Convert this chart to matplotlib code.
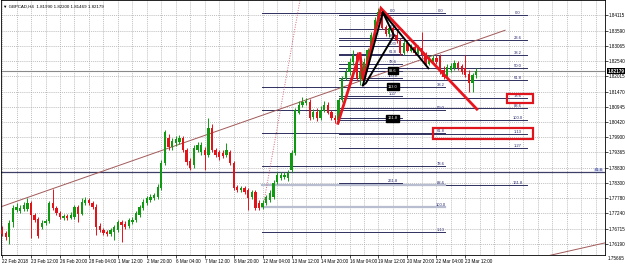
import numpy as np
import matplotlib.pyplot as plt
from matplotlib.patches import Rectangle

plt.rcParams['font.family'] = ['Liberation Sans', 'DejaVu Sans']

# GBPCAD H4 candles
opens = [1.7667, 1.7656, 1.7642, 1.7694, 1.7736, 1.7732, 1.7739, 1.7739, 1.7760, 1.7719,
         1.7705, 1.7677, 1.7691, 1.7698, 1.7760, 1.7743, 1.7725, 1.7708, 1.7715, 1.7708,
         1.7712, 1.7746, 1.7722, 1.7760, 1.7770, 1.7760, 1.7746, 1.7680, 1.7667, 1.7660,
         1.7653, 1.7660, 1.7667, 1.7694, 1.7687, 1.7680, 1.7694, 1.7701, 1.7719, 1.7743,
         1.7760, 1.7770, 1.7777, 1.7781, 1.7812, 1.7899, 1.7985, 1.7954, 1.7968, 1.7971,
         1.7985, 1.7944, 1.7906, 1.7892, 1.7944, 1.7937, 1.7944, 1.7926, 1.8020, 1.7944,
         1.7937, 1.7933, 1.7926, 1.7937, 1.7899, 1.7816, 1.7805, 1.7812, 1.7805, 1.7781,
         1.7798, 1.7760, 1.7746, 1.7760, 1.7770, 1.7781, 1.7833, 1.7847, 1.7850, 1.7847,
         1.7874, 1.7933, 1.8075, 1.8100, 1.8107, 1.8110, 1.8058, 1.8075, 1.8055, 1.8082,
         1.8100, 1.8075, 1.8055, 1.8048, 1.8117, 1.8193, 1.8214, 1.8249, 1.8273, 1.8193,
         1.8214, 1.8249, 1.8290, 1.8342, 1.8394, 1.8422, 1.8370, 1.8349, 1.8366, 1.8342,
         1.8325, 1.8280, 1.8315, 1.8290, 1.8301, 1.8283, 1.8297, 1.8273, 1.8245, 1.8249,
         1.8263, 1.8269, 1.8221, 1.8197, 1.8221, 1.8228, 1.8245, 1.8235, 1.8228, 1.8207,
         1.8179, 1.8204]
highs = [1.7680, 1.7663, 1.7701, 1.7753, 1.7760, 1.7753, 1.7764, 1.7777, 1.7767, 1.7725,
         1.7712, 1.7701, 1.7705, 1.7767, 1.7809, 1.7750, 1.7732, 1.7722, 1.7722, 1.7729,
         1.7753, 1.7753, 1.7777, 1.7781, 1.7777, 1.7767, 1.7757, 1.7691, 1.7673, 1.7667,
         1.7673, 1.7684, 1.7701, 1.7701, 1.7698, 1.7708, 1.7712, 1.7732, 1.7753, 1.7774,
         1.7784, 1.7791, 1.7795, 1.7826, 1.7909, 1.8013, 1.7999, 1.7985, 1.7992, 1.7996,
         1.7992, 1.7951, 1.7916, 1.7961, 1.7971, 1.7971, 1.7954, 1.8055, 1.8034, 1.7951,
         1.7944, 1.7944, 1.7968, 1.7944, 1.7906, 1.7822, 1.7819, 1.7819, 1.7812, 1.7805,
         1.7805, 1.7770, 1.7770, 1.7788, 1.7805, 1.7840, 1.7868, 1.7868, 1.7868, 1.7874,
         1.7944, 1.8089, 1.8114, 1.8127, 1.8124, 1.8120, 1.8086, 1.8089, 1.8096, 1.8114,
         1.8110, 1.8082, 1.8065, 1.8124, 1.8200, 1.8228, 1.8263, 1.8290, 1.8283, 1.8228,
         1.8263, 1.8297, 1.8353, 1.8405, 1.8436, 1.8432, 1.8377, 1.8373, 1.8377, 1.8356,
         1.8332, 1.8325, 1.8325, 1.8311, 1.8308, 1.8308, 1.8353, 1.8283, 1.8273, 1.8273,
         1.8273, 1.8276, 1.8235, 1.8242, 1.8245, 1.8256, 1.8252, 1.8242, 1.8273, 1.8221,
         1.8211, 1.8228]
lows = [1.7646, 1.7632, 1.7618, 1.7677, 1.7729, 1.7725, 1.7732, 1.7732, 1.7639, 1.7694,
        1.7639, 1.7670, 1.7684, 1.7691, 1.7736, 1.7719, 1.7705, 1.7701, 1.7701, 1.7705,
        1.7705, 1.7694, 1.7719, 1.7753, 1.7753, 1.7739, 1.7649, 1.7660, 1.7649, 1.7646,
        1.7646, 1.7632, 1.7660, 1.7625, 1.7670, 1.7673, 1.7687, 1.7694, 1.7712, 1.7736,
        1.7753, 1.7764, 1.7770, 1.7774, 1.7805, 1.7892, 1.7944, 1.7944, 1.7958, 1.7965,
        1.7937, 1.7892, 1.7874, 1.7881, 1.7937, 1.7926, 1.7874, 1.7919, 1.7937, 1.7919,
        1.7909, 1.7916, 1.7919, 1.7892, 1.7805, 1.7798, 1.7798, 1.7791, 1.7736, 1.7774,
        1.7736, 1.7736, 1.7739, 1.7753, 1.7764, 1.7774, 1.7826, 1.7840, 1.7843, 1.7836,
        1.7868, 1.7926, 1.8069, 1.8093, 1.8100, 1.8048, 1.8051, 1.8044, 1.8048, 1.8075,
        1.8069, 1.8048, 1.8037, 1.8041, 1.8110, 1.8186, 1.8204, 1.8238, 1.8186, 1.8169,
        1.8204, 1.8238, 1.8283, 1.8332, 1.8387, 1.8363, 1.8339, 1.8335, 1.8332, 1.8315,
        1.8273, 1.8273, 1.8283, 1.8283, 1.8273, 1.8276, 1.8263, 1.8235, 1.8238, 1.8242,
        1.8242, 1.8207, 1.8190, 1.8190, 1.8214, 1.8221, 1.8221, 1.8207, 1.8197, 1.8145,
        1.8145, 1.8193]
closes = [1.7653, 1.7642, 1.7691, 1.7743, 1.7746, 1.7743, 1.7753, 1.7760, 1.7719, 1.7701,
          1.7646, 1.7691, 1.7698, 1.7760, 1.7743, 1.7725, 1.7712, 1.7715, 1.7708, 1.7719,
          1.7746, 1.7722, 1.7764, 1.7770, 1.7760, 1.7746, 1.7677, 1.7667, 1.7656, 1.7653,
          1.7667, 1.7677, 1.7694, 1.7684, 1.7677, 1.7701, 1.7701, 1.7725, 1.7746, 1.7764,
          1.7777, 1.7781, 1.7788, 1.7816, 1.7899, 1.8006, 1.7954, 1.7975, 1.7982, 1.7985,
          1.7944, 1.7902, 1.7881, 1.7951, 1.7961, 1.7961, 1.7926, 1.8020, 1.7944, 1.7926,
          1.7919, 1.7923, 1.7944, 1.7899, 1.7812, 1.7805, 1.7812, 1.7798, 1.7777, 1.7798,
          1.7743, 1.7743, 1.7760, 1.7781, 1.7795, 1.7829, 1.7857, 1.7857, 1.7857, 1.7864,
          1.7933, 1.8082, 1.8100, 1.8110, 1.8114, 1.8055, 1.8075, 1.8055, 1.8082, 1.8100,
          1.8075, 1.8055, 1.8048, 1.8117, 1.8193, 1.8214, 1.8249, 1.8273, 1.8193, 1.8214,
          1.8249, 1.8290, 1.8342, 1.8394, 1.8422, 1.8370, 1.8349, 1.8366, 1.8342, 1.8325,
          1.8280, 1.8315, 1.8290, 1.8301, 1.8283, 1.8297, 1.8273, 1.8245, 1.8263, 1.8263,
          1.8249, 1.8214, 1.8197, 1.8231, 1.8235, 1.8245, 1.8228, 1.8214, 1.8204, 1.8179,
          1.8204, 1.8218]

date_labels = ["22 Feb 2018", "23 Feb 12:00", "26 Feb 20:00", "28 Feb 04:00", "1 Mar 12:00",
               "2 Mar 20:00", "6 Mar 04:00", "7 Mar 12:00", "8 Mar 20:00", "12 Mar 04:00",
               "13 Mar 12:00", "14 Mar 20:00", "16 Mar 04:00", "19 Mar 12:00", "20 Mar 20:00",
               "22 Mar 04:00", "23 Mar 12:00"]
price_ticks = [1.84115, 1.83590, 1.83065, 1.82540, 1.82015, 1.81470, 1.80945, 1.80420,
               1.79900, 1.79365, 1.78830, 1.78300, 1.77780, 1.77240, 1.76715, 1.76190]
last_price = 1.82179
title = "GBPCAD,H4  1.81990 1.82200 1.81469 1.82179"

# fibonacci tools: levels, labels, 0% price, 100% price
fibA_levels = [0, 23.6, 38.2, 50.0, 61.8, 78.6, 88.6, 100.0, 113, 127, 161.8]
fibA_labels = ["0.0", "23.6", "38.2", "50.0", "61.8", "78.6", "88.6", "100.0", "1.13", "1.27", "161.8"]
fibA_prices = (1.84115, 1.80480)
fibB_levels = [0, 38.2, 50.0, 61.8, 78.6, 88.6, 100.0, 113]
fibB_labels = ["0.0", "38.2", "50.0", "61.8", "78.6", "88.6", "100.0", "1.13"]
fibB_prices = (1.84185, 1.77460)
fibC_levels = [0, 23.6, 38.2, 50.0, 61.8, 78.6, 88.6, 100.0, 113, 127, 161.8, 261.8]
fibC_labels = ["0.0", "23.6", "38.2", "50.0", "61.8", "78.6", "88.6", "100.0", "113.0", "1.27", "161.8", "261.8"]
fibC_prices = (1.84185, 1.81930)
fibC_boxed = ["88.6", "113.0", "161.8"]

# pattern drawn on the chart (bar, price)
red_xabcd_bars = [92.8, 98.9, 99.7, 104.7, 131.2]
red_xabcd_prices = [1.8037, 1.8283, 1.8186, 1.8436, 1.8086]
black_bars = [99.7, 105.2, 108.3, 100.5, 99.7]
black_prices = [1.8169, 1.8422, 1.8342, 1.8176, 1.8169]
black2_bars = [105.2, 117.8]
black2_prices = [1.8422, 1.8228]
trend_bars = [-0.6, 139.0]
trend_prices = [1.7746, 1.8360]
trend2_bars = [149.4, 166.6]
trend2_prices = [1.7573, 1.7622]
dotted_bars = [72.1, 82.3]
dotted_prices = [1.7746, 1.8463]
hline_prices = [1.82179, 1.78680]

BULL = '#0f9a12'
BEAR = '#e3131b'
FIB = '#2e2f5e'
FIB_LIGHT = '#b9bdd0'
LBL = '#26266e'
FS = 3.3

fig = plt.figure(figsize=(6.25, 2.68), dpi=100)
ax = fig.add_axes([0.0016, 0.0485, 0.9664, 0.9500])
ax.set_xlim(-0.3, 166.6)
ax.set_ylim(1.75799, 1.84635)

idx = np.arange(len(closes))
o = np.array(opens)
c = np.array(closes)
up = c >= o
cols = np.where(up, BULL, BEAR)
ax.vlines(idx, lows, highs, colors=cols, lw=0.7, zorder=3)
ax.bar(idx, np.abs(c - o) + 0.00012, bottom=np.minimum(o, c) - 0.00006, width=0.65,
       color=cols, linewidth=0, zorder=3)

# grid
for b in range(0, 168, 4):
    ax.axvline(b, color='#a8a8a8', lw=0.5, ls=(0, (1.5, 1.5)), zorder=0)
for p in price_ticks:
    ax.axhline(p, color='#a8a8a8', lw=0.5, ls=(0, (1.5, 1.5)), zorder=0)

# trend lines
ax.plot(trend_bars, trend_prices, color='#a25a5a', lw=0.7, zorder=2)
ax.plot(trend2_bars, trend2_prices, color='#a25a5a', lw=0.7, zorder=2)
ax.plot(dotted_bars, dotted_prices, color='#d0687a', lw=0.7, ls=(0, (1, 1.5)), zorder=2)
ax.axhline(hline_prices[0], color='#8a8a8a', lw=0.8, zorder=1)
ax.axhline(hline_prices[1], color='#3d3f66', lw=0.9, zorder=1)
ax.text(165.9, hline_prices[1], "61.8", fontsize=3.0, color=LBL, ha='right', va='bottom',
        bbox=dict(boxstyle='square,pad=0.1', fc='#cfd6ee', ec='none'))


def draw_fib(levels, labels, prices, x0, x1, xl, light=(), boxed=()):
    top, bot = prices
    for lv, lb in zip(levels, labels):
        p = top - (top - bot) * lv / 100.0
        if lb in light:
            ax.plot([x0, x1], [p, p], color=FIB_LIGHT, lw=1.6, zorder=1)
        else:
            ax.plot([x0, x1], [p, p], color=FIB, lw=0.7, zorder=1)
        if lb in boxed:
            ax.text(xl, p, lb, fontsize=2.8, color='white', ha='center', va='center', zorder=6,
                    bbox=dict(boxstyle='square,pad=0.4', fc='black', ec='black'))
        else:
            ax.text(xl, p, lb, fontsize=3.0, color=LBL, ha='center', va='bottom', zorder=5)


draw_fib(fibA_levels, fibA_labels, fibA_prices, 93.0, 145.0, 142.6)
draw_fib(fibB_levels, fibB_labels, fibB_prices, 71.8, 122.5, 121.3, light=("88.6", "100.0"))
draw_fib(fibC_levels, fibC_labels, fibC_prices, 93.0, 110.5, 108.0, boxed=fibC_boxed)

# pattern lines
ax.plot(red_xabcd_bars, red_xabcd_prices, color='#e8151f', lw=2.0, zorder=7, solid_joinstyle='miter')
ax.plot(black_bars, black_prices, color='black', lw=1.4, zorder=7)
ax.plot(black2_bars, black2_prices, color='black', lw=1.4, zorder=7)

# highlight boxes
ax.add_patch(Rectangle((139.6, 1.81060), 7.2, 0.00320, fill=False, ec='#e0141c', lw=1.6, zorder=8))
ax.add_patch(Rectangle((119.1, 1.79820), 27.7, 0.00380, fill=False, ec='#e0141c', lw=1.6, zorder=8))

# axes styling
ax.yaxis.tick_right()
ax.set_yticks(price_ticks)
ax.set_yticklabels([f"{p:.5f}" for p in price_ticks])
ax.set_xticks(np.arange(0, 8 * len(date_labels), 8))
ax.set_xticklabels(date_labels, ha='left')
ax.tick_params(axis='both', labelsize=FS, length=2, width=0.5, pad=1, colors='black')
for s in ax.spines.values():
    s.set_linewidth(0.6)
ax.text(1.004, 1.75665, "1.75665", transform=ax.get_yaxis_transform(), fontsize=FS,
        va='center', ha='left', clip_on=False)
ax.text(1.004, last_price, f"{last_price:.5f}", transform=ax.get_yaxis_transform(), fontsize=FS,
        va='center', ha='left', color='white', fontweight='bold', zorder=10,
        bbox=dict(boxstyle='square,pad=0.15', fc='black', ec='none'), clip_on=False)
ax.text(0.004, 0.985, "\u25bc " + title, transform=ax.transAxes, fontsize=3.2, va='top', ha='left')

fig.savefig('out.png', dpi=100)
